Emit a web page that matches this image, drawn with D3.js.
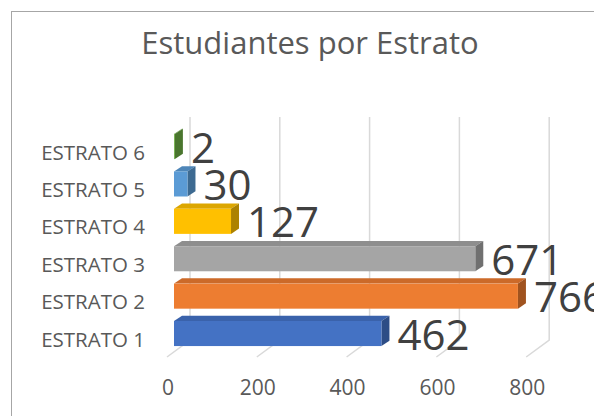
<!DOCTYPE html>
<html lang="es">

<head>
    <meta charset="utf-8">
    <title>Estudiantes por Estrato</title>
    <script src="https://d3js.org/d3.v7.min.js"></script>
    <style>
        body { margin: 0; background: #fff; }
        svg { display: block; font-family: "Open Sans", sans-serif; }
        .cat_label { font-size: 20.5px; fill: #595959; }
        .tick_label { font-size: 21px; fill: #595959; }
        .value_label { font-size: 42px; fill: #404040; }
        .title { font-size: 31px; fill: #595959; }
        .grid { stroke: #d9d9d9; stroke-width: 1.5; fill: none; }
    </style>
</head>

<body>
    <div id="chart">
        <script type="text/javascript">

            //Consts
            const w = 594;
            const h = 416;

            // data - students per stratum
            const categories = ["ESTRATO 1", "ESTRATO 2", "ESTRATO 3", "ESTRATO 4", "ESTRATO 5", "ESTRATO 6"];
            const values = [462, 766, 671, 127, 30, 2];
            const ticks = [0, 200, 400, 600, 800];

            // office colours: front, top, side
            const fronts = ["#4472c4", "#ed7d31", "#a5a5a5", "#ffc000", "#5b9bd5", "#70ad47"];
            const tops = ["#3a62ab", "#cc6a29", "#8e8e8e", "#dca600", "#4e86b8", "#5f953c"];
            const sides = ["#2d4d86", "#a0531f", "#707070", "#ad8200", "#3d6a91", "#4a762e"];

            // 3d depth offset
            const dx = 8;
            const dy = 5.3;

            //scales
            const xScale = d3.scaleLinear()
                .domain([0, 800])
                .range([174, 533.2]);

            const yScale = d3.scaleBand()
                .domain(categories.slice().reverse())
                .range([121.7, 358.4])
                .padding(0.33);

            //SVG
            const svg = d3.select("#chart")
                .append("svg")
                .attr("width", w)
                .attr("height", h);

            //chart border (runs off the page on right and bottom)
            svg.append("rect")
                .attr("x", 11.5)
                .attr("y", 11.5)
                .attr("width", 700)
                .attr("height", 500)
                .attr("fill", "none")
                .attr("stroke", "#a6a6a6")
                .attr("stroke-width", 1);

            //title
            svg.append("text")
                .attr("class", "title")
                .attr("x", 310)
                .attr("y", 54)
                .attr("text-anchor", "middle")
                .text("Estudiantes por Estrato");

            //back wall grid lines + floor
            svg.selectAll(".wall")
                .data(ticks)
                .join("path")
                .attr("class", "grid")
                .attr("d", d => {
                    const xb = xScale(d) + 16;
                    return "M" + xb + ",117 L" + xb + ",340 L" + (xScale(d) - 7) + ",357";
                });

            //tick labels
            svg.selectAll(".tick_label")
                .data(ticks)
                .join("text")
                .attr("class", "tick_label")
                .attr("x", d => xScale(d) - 6)
                .attr("y", 395)
                .attr("text-anchor", "middle")
                .text(d => d);

            //category labels
            svg.selectAll(".cat_label")
                .data(categories)
                .join("text")
                .attr("class", "cat_label")
                .attr("x", 145)
                .attr("y", d => yScale(d) + yScale.bandwidth() / 2 + 13)
                .attr("text-anchor", "end")
                .text(d => d);

            //bars
            const bars = svg.selectAll(".bar")
                .data(values)
                .join("g")
                .attr("class", "bar");

            // top face
            bars.append("path")
                .attr("fill", (d, i) => tops[i])
                .attr("d", (d, i) => {
                    const x0 = xScale(0), x1 = xScale(d), y0 = yScale(categories[i]);
                    return "M" + x0 + "," + y0 + " L" + x1 + "," + y0 + " L" + (x1 + dx) + "," + (y0 - dy)
                        + " L" + (x0 + dx) + "," + (y0 - dy) + "Z";
                });

            // side face
            bars.append("path")
                .attr("fill", (d, i) => sides[i])
                .attr("d", (d, i) => {
                    const x1 = xScale(d), y0 = yScale(categories[i]), y1 = y0 + yScale.bandwidth();
                    return "M" + x1 + "," + y0 + " L" + (x1 + dx) + "," + (y0 - dy) + " L" + (x1 + dx) + "," + (y1 - dy)
                        + " L" + x1 + "," + y1 + "Z";
                });

            // front face
            bars.append("rect")
                .attr("x", xScale(0))
                .attr("y", (d, i) => yScale(categories[i]))
                .attr("width", d => xScale(d) - xScale(0))
                .attr("height", yScale.bandwidth())
                .attr("fill", (d, i) => fronts[i]);

            //value labels
            svg.selectAll(".value_label")
                .data(values)
                .join("text")
                .attr("class", "value_label")
                .attr("x", d => xScale(d) + 16)
                .attr("y", (d, i) => yScale(categories[i]) + yScale.bandwidth() / 2 + 16)
                .text(d => d);

        </script>
    </div>
</body>

</html>
